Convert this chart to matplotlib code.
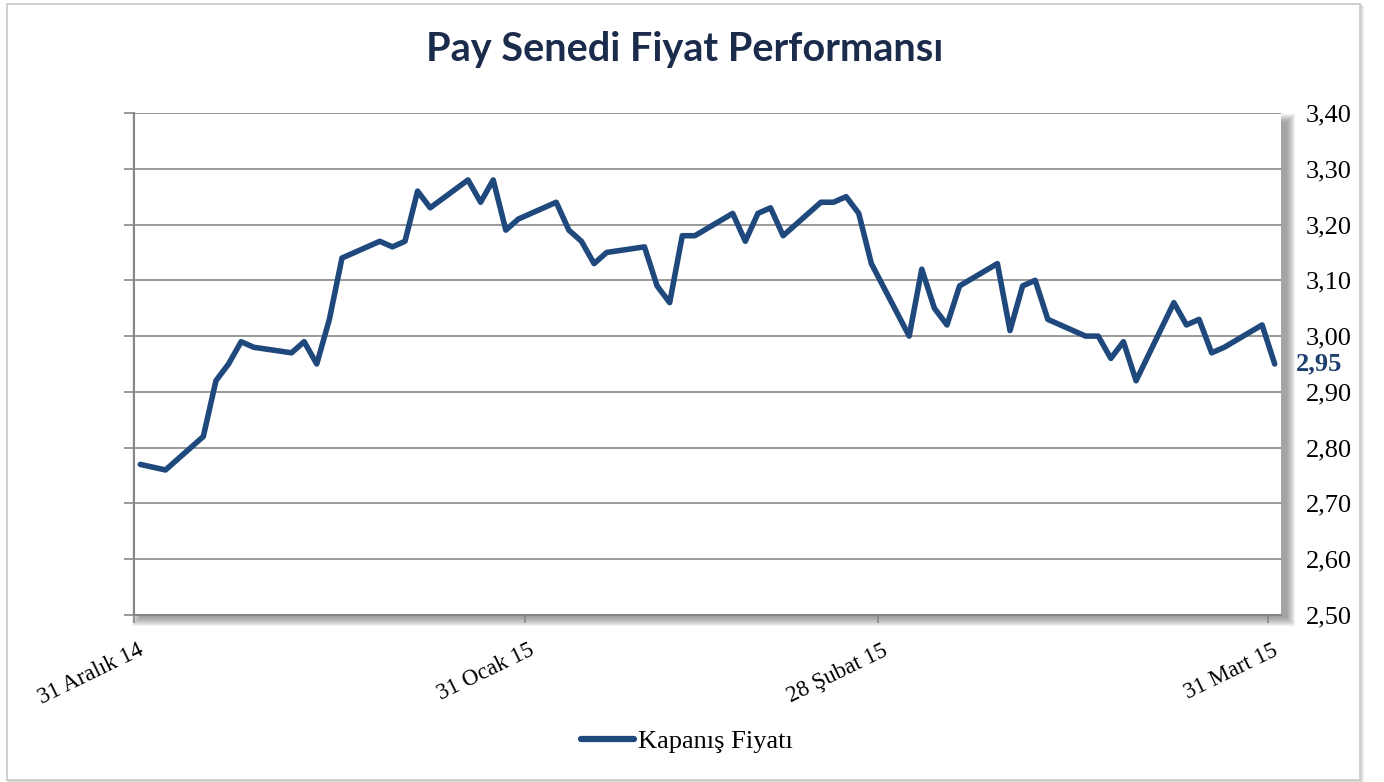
import matplotlib
matplotlib.use("Agg")
import matplotlib.pyplot as plt
import matplotlib.dates as mdates
from matplotlib.patches import Rectangle
from matplotlib.lines import Line2D
from matplotlib.transforms import ScaledTranslation
import numpy as np

# Closing prices (TL), business days Dec 2014 - Mar 2015
dates = [
    "2014-12-31", "2015-01-02", "2015-01-05", "2015-01-06", "2015-01-07",
    "2015-01-08", "2015-01-09", "2015-01-12", "2015-01-13", "2015-01-14",
    "2015-01-15", "2015-01-16", "2015-01-19", "2015-01-20", "2015-01-21",
    "2015-01-22", "2015-01-23", "2015-01-26", "2015-01-27", "2015-01-28",
    "2015-01-29", "2015-01-30", "2015-02-02", "2015-02-03", "2015-02-04",
    "2015-02-05", "2015-02-06", "2015-02-09", "2015-02-10", "2015-02-11",
    "2015-02-12", "2015-02-13", "2015-02-16", "2015-02-17", "2015-02-18",
    "2015-02-19", "2015-02-20", "2015-02-23", "2015-02-24", "2015-02-25",
    "2015-02-26", "2015-02-27", "2015-03-02", "2015-03-03", "2015-03-04",
    "2015-03-05", "2015-03-06", "2015-03-09", "2015-03-10", "2015-03-11",
    "2015-03-12", "2015-03-13", "2015-03-16", "2015-03-17", "2015-03-18",
    "2015-03-19", "2015-03-20", "2015-03-23", "2015-03-24", "2015-03-25",
    "2015-03-26", "2015-03-27", "2015-03-30", "2015-03-31",
]
closes = [
    2.77, 2.76, 2.82, 2.92, 2.95,
    2.99, 2.98, 2.97, 2.99, 2.95,
    3.03, 3.14, 3.17, 3.16, 3.17,
    3.26, 3.23, 3.28, 3.24, 3.28,
    3.19, 3.21, 3.24, 3.19, 3.17,
    3.13, 3.15, 3.16, 3.09, 3.06,
    3.18, 3.18, 3.22, 3.17, 3.22,
    3.23, 3.18, 3.24, 3.24, 3.25,
    3.22, 3.13, 3.00, 3.12, 3.05,
    3.02, 3.09, 3.13, 3.01, 3.09,
    3.10, 3.03, 3.00, 3.00, 2.96,
    2.99, 2.92, 3.06, 3.02, 3.03,
    2.97, 2.98, 3.02, 2.95,
]
tick_dates = ["2014-12-31", "2015-01-31", "2015-02-28", "2015-03-31"]
tick_labels = ["31 Aralık 14", "31 Ocak 15", "28 Şubat 15", "31 Mart 15"]
y_ticks = [2.50, 2.60, 2.70, 2.80, 2.90, 3.00, 3.10, 3.20, 3.30, 3.40]
title = "Pay Senedi Fiyat Performansı"
series_name = "Kapanış Fiyatı"

LINE = "#1F497D"
GRID = "#878787"
SERIF = ["Liberation Serif", "DejaVu Serif"]

W, H = 1384, 782
fig = plt.figure(figsize=(W / 100, H / 100), dpi=100)
fig.patch.set_facecolor("white")


def fx(px):
    return px / W


def fy(py):
    return 1 - py / H


# chart frame with a soft shadow
for i in range(4):
    fig.patches.append(Rectangle((fx(7 + i), fy(780 + i)), fx(1353), 776 / H,
                                 transform=fig.transFigure, fill=False,
                                 edgecolor="#9a9a9a", lw=1.0,
                                 alpha=0.35 - i * 0.08, zorder=-3))
fig.patches.append(Rectangle((fx(7), fy(780)), fx(1353), 776 / H,
                             transform=fig.transFigure, facecolor="white",
                             edgecolor="#c8c8c8", lw=1.2, zorder=-2))

# plot area
L, R, T, B = 134, 1281, 113, 615
ax = fig.add_axes([fx(L), fy(B), fx(R - L), (B - T) / H])
ax.set_facecolor("white")

# drop shadow behind the plot area
for i in range(9):
    off = 3
    grow = i
    fig.patches.append(Rectangle((fx(L + off + 3 - grow), fy(B + off + grow)),
                                 fx(R - L + 2 * grow), (B - T + 2 * grow - 6) / H,
                                 transform=fig.transFigure, facecolor="#505050",
                                 edgecolor="none", alpha=0.075, zorder=-1))

x = np.array(dates, dtype="datetime64[D]").astype("datetime64[h]") + np.timedelta64(12, "h")
x = mdates.date2num(x.astype("datetime64[s]").astype(object))
ax.plot(x, closes, color=LINE, lw=4.0, solid_joinstyle="round",
        solid_capstyle="round", zorder=3, clip_on=False)

x0 = mdates.date2num(np.datetime64("2014-12-31").astype(object))
x1 = mdates.date2num(np.datetime64("2015-04-01").astype(object))
ax.set_xlim(x0, x1)
ax.set_ylim(y_ticks[0], y_ticks[-1])

# y axis: gridlines, outward ticks on the left, labels on the right
ax.set_yticks(y_ticks)
ax.yaxis.grid(True, color=GRID, lw=1.2)
ax.set_axisbelow(True)
ax.tick_params(axis="y", which="both", left=True, right=False, length=7,
               width=1.2, color=GRID, labelleft=False, labelright=True,
               pad=11, labelsize=19)
ax.set_yticklabels([f"{v:.2f}".replace(".", ",") for v in y_ticks])
for lab in ax.get_yticklabels():
    lab.set_fontfamily(SERIF)

# x axis: month-end ticks
tx = [mdates.date2num(np.datetime64(d).astype(object)) for d in tick_dates]
ax.set_xticks(tx)
ax.set_xticklabels(tick_labels, rotation=26, ha="right",
                   rotation_mode="anchor", fontsize=16.5, family=SERIF)
ax.tick_params(axis="x", length=6, width=1.2, color=GRID, pad=12)
shift = ScaledTranslation(4 / 100, 0, fig.dpi_scale_trans)
for lab in ax.get_xticklabels():
    lab.set_transform(lab.get_transform() + shift)

for s in ["top", "right"]:
    ax.spines[s].set_visible(False)
for s in ["left", "bottom"]:
    ax.spines[s].set_color(GRID)
    ax.spines[s].set_linewidth(1.5)

# last close callout
ax.annotate(f"{closes[-1]:.2f}".replace(".", ","),
            xy=(1.0, closes[-1]), xycoords=("axes fraction", "data"),
            xytext=(15, 0), textcoords="offset pixels",
            ha="left", va="center", fontsize=19, fontweight="bold",
            family=SERIF, color="#1F3F6E", annotation_clip=False)

fig.text(0.495, fy(50), title, ha="center", va="center", fontsize=28.5,
         fontweight="bold", family=["Lato", "DejaVu Sans"], color="#1B2B4B")

handle = Line2D([], [], color=LINE, lw=4.5, solid_capstyle="round")
fig.legend([handle], [series_name], loc="center",
           bbox_to_anchor=(fx(687), fy(741)), frameon=False,
           prop={"family": SERIF, "size": 19}, handlelength=2.0,
           handletextpad=0.15)

fig.savefig("out.png", dpi=100, facecolor="white")
